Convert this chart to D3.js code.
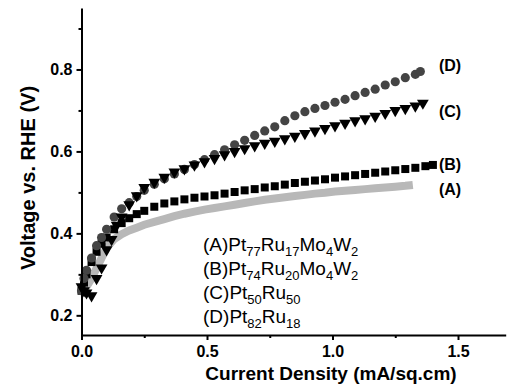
<!DOCTYPE html>
<html>
<head>
<meta charset="utf-8">
<script src="https://cdn.jsdelivr.net/npm/d3@7"></script>
<style>
  body { margin: 0; background: #fff; }
  svg text { font-family: "Liberation Sans", Arial, sans-serif; }
  .axis path, .axis line { stroke: #000; stroke-width: 2; }
  .axis text { font-size: 16px; font-weight: bold; fill: #000; }
</style>
</head>
<body>
<div id="chart"></div>
<script>
// current density (mA/sq.cm) and voltage vs. RHE (V)
const currentA = [0, 0.01, 0.02, 0.04, 0.06, 0.08, 0.10, 0.13, 0.16, 0.19, 0.22, 0.25, 0.29, 0.33, 0.37, 0.41, 0.45, 0.49, 0.53, 0.57, 0.61, 0.65, 0.69, 0.73, 0.77, 0.81, 0.85, 0.89, 0.93, 0.97, 1.01, 1.05, 1.09, 1.13, 1.17, 1.21, 1.25, 1.29, 1.32];
const voltA = [0.25, 0.26, 0.27, 0.29, 0.315, 0.34, 0.365, 0.386, 0.398, 0.407, 0.414, 0.421, 0.428, 0.435, 0.442, 0.448, 0.453, 0.458, 0.462, 0.466, 0.47, 0.474, 0.478, 0.482, 0.485, 0.488, 0.491, 0.494, 0.497, 0.499, 0.502, 0.504, 0.506, 0.508, 0.51, 0.512, 0.514, 0.516, 0.518];

const currentB = [0, 0.01, 0.02, 0.04, 0.06, 0.08, 0.10, 0.13, 0.16, 0.19, 0.22, 0.25, 0.29, 0.33, 0.37, 0.41, 0.45, 0.49, 0.53, 0.57, 0.61, 0.65, 0.69, 0.73, 0.77, 0.81, 0.85, 0.89, 0.93, 0.97, 1.01, 1.05, 1.09, 1.13, 1.17, 1.21, 1.25, 1.29, 1.33, 1.37, 1.40];
const voltB = [0.26, 0.28, 0.30, 0.33, 0.355, 0.375, 0.39, 0.41, 0.425, 0.437, 0.447, 0.455, 0.465, 0.473, 0.478, 0.483, 0.487, 0.49, 0.493, 0.497, 0.501, 0.505, 0.508, 0.512, 0.515, 0.519, 0.523, 0.526, 0.529, 0.532, 0.536, 0.539, 0.542, 0.545, 0.548, 0.551, 0.554, 0.557, 0.56, 0.564, 0.567];

const currentC = [0, 0.01, 0.02, 0.04, 0.06, 0.08, 0.10, 0.12, 0.14, 0.16, 0.19, 0.22, 0.25, 0.29, 0.33, 0.37, 0.41, 0.45, 0.49, 0.53, 0.57, 0.61, 0.65, 0.69, 0.73, 0.77, 0.81, 0.85, 0.89, 0.93, 0.97, 1.01, 1.05, 1.09, 1.13, 1.17, 1.21, 1.25, 1.29, 1.33, 1.36];
const voltC = [0.27, 0.26, 0.255, 0.248, 0.29, 0.316, 0.36, 0.385, 0.42, 0.44, 0.47, 0.492, 0.512, 0.525, 0.537, 0.55, 0.558, 0.567, 0.575, 0.583, 0.592, 0.60, 0.607, 0.614, 0.62, 0.625, 0.631, 0.637, 0.644, 0.65, 0.656, 0.663, 0.669, 0.675, 0.68, 0.686, 0.693, 0.70, 0.705, 0.711, 0.718];

const currentD = [0, 0.01, 0.02, 0.04, 0.06, 0.08, 0.10, 0.13, 0.16, 0.19, 0.22, 0.25, 0.29, 0.33, 0.37, 0.41, 0.45, 0.49, 0.53, 0.57, 0.61, 0.65, 0.69, 0.73, 0.77, 0.81, 0.85, 0.89, 0.93, 0.97, 1.01, 1.05, 1.09, 1.13, 1.17, 1.21, 1.25, 1.29, 1.33, 1.35];
const voltD = [0.26, 0.29, 0.31, 0.34, 0.37, 0.39, 0.41, 0.44, 0.46, 0.475, 0.49, 0.505, 0.52, 0.533, 0.545, 0.556, 0.568, 0.58, 0.592, 0.604, 0.616, 0.627, 0.639, 0.65, 0.66, 0.675, 0.687, 0.697, 0.705, 0.712, 0.72, 0.727, 0.736, 0.744, 0.752, 0.762, 0.77, 0.78, 0.788, 0.795];

const seriesTags = ["(A)", "(B)", "(C)", "(D)"];
const legendLines = ["(A)Pt_77Ru_17Mo_4W_2", "(B)Pt_74Ru_20Mo_4W_2", "(C)Pt_50Ru_50", "(D)Pt_82Ru_18"];
const xTicks = [0.0, 0.5, 1.0, 1.5];
const xMinor = [0.25, 0.75, 1.25];
const yTicks = [0.2, 0.4, 0.6, 0.8];
const yMinor = [0.3, 0.5, 0.7, 0.9];

const width = 510, height = 386;
const x = d3.scaleLinear().domain([0, 1.69]).range([81.5, 505.7]);
const y = d3.scaleLinear().domain([0.152, 0.95]).range([335, 8]);

const svg = d3.select("#chart").append("svg")
    .attr("width", width).attr("height", height);

const zip = (xs, ys) => xs.map((v, i) => [v, ys[i]]);
const series = [
  {data: zip(currentA, voltA), shape: "band", color: "#b8b8b8"},
  {data: zip(currentB, voltB), shape: d3.symbolSquare, size: 64, color: "#000"},
  {data: zip(currentD, voltD), shape: d3.symbolCircle, size: 66, color: "#444"},
  {data: zip(currentC, voltC), shape: d3.symbolTriangle, size: 60, color: "#000"}
];

// series A is drawn as a thick light-grey band (dense markers in the original)
const lineGen = d3.line().x(d => x(d[0])).y(d => y(d[1]));
series.forEach(s => {
  if (s.shape === "band") {
    svg.append("path")
        .attr("d", lineGen(s.data))
        .attr("fill", "none")
        .attr("stroke", s.color)
        .attr("stroke-width", 8);
    return;
  }
  const sym = d3.symbol().type(s.shape).size(s.size);
  svg.append("g").selectAll("path")
      .data(s.data)
      .join("path")
      .attr("d", sym)
      .attr("fill", s.color)
      .attr("transform", d => {
        const rot = s.shape === d3.symbolTriangle ? " rotate(180)" : "";
        return `translate(${x(d[0])},${y(d[1])})${rot}`;
      });
});

// axes
svg.append("g")
    .attr("class", "axis")
    .attr("transform", `translate(0,${y.range()[0]})`)
    .call(d3.axisBottom(x).tickValues(xTicks).tickFormat(d3.format(".1f"))
            .tickSize(5).tickSizeOuter(0).tickPadding(6));
svg.append("g")
    .attr("class", "axis")
    .attr("transform", `translate(0,${y.range()[0]})`)
    .call(d3.axisBottom(x).tickValues(xMinor).tickFormat("").tickSize(3).tickSizeOuter(0))
    .select(".domain").remove();

svg.append("g")
    .attr("class", "axis")
    .attr("transform", `translate(${x.range()[0]},0)`)
    .call(d3.axisLeft(y).tickValues(yTicks).tickFormat(d3.format(".1f"))
            .tickSize(5).tickSizeOuter(0).tickPadding(4));
svg.append("g")
    .attr("class", "axis")
    .attr("transform", `translate(${x.range()[0]},0)`)
    .call(d3.axisLeft(y).tickValues(yMinor).tickFormat("").tickSize(3).tickSizeOuter(0))
    .select(".domain").remove();

// axis titles
svg.append("text")
    .attr("x", 331).attr("y", 380)
    .attr("text-anchor", "middle")
    .style("font-size", "19px").style("font-weight", "bold")
    .text("Current Density (mA/sq.cm)");
svg.append("text")
    .attr("transform", "translate(35,178) rotate(-90)")
    .attr("text-anchor", "middle")
    .style("font-size", "20px").style("font-weight", "bold")
    .text("Voltage vs. RHE (V)");

// end-of-curve tags
const tagY = [0.508, 0.57, 0.698, 0.81];
svg.append("g").selectAll("text")
    .data(seriesTags)
    .join("text")
    .attr("x", 450)
    .attr("y", (d, i) => y(tagY[i]) + 6)
    .attr("text-anchor", "middle")
    .style("font-size", "16px").style("font-weight", "bold")
    .text(d => d);

// legend with subscripts
const legend = svg.append("g");
legendLines.forEach((line, i) => {
  const t = legend.append("text")
      .attr("x", 203).attr("y", 251 + i * 24)
      .style("font-size", "19px");
  line.split("_").forEach((part, j) => {
    if (j === 0) { t.append("tspan").text(part); return; }
    const m = part.match(/^(\d+)(.*)$/);
    t.append("tspan").attr("dy", 5).style("font-size", "13px").text(m[1]);
    if (m[2]) t.append("tspan").attr("dy", -5).text(m[2]);
  });
});
</script>
</body>
</html>
